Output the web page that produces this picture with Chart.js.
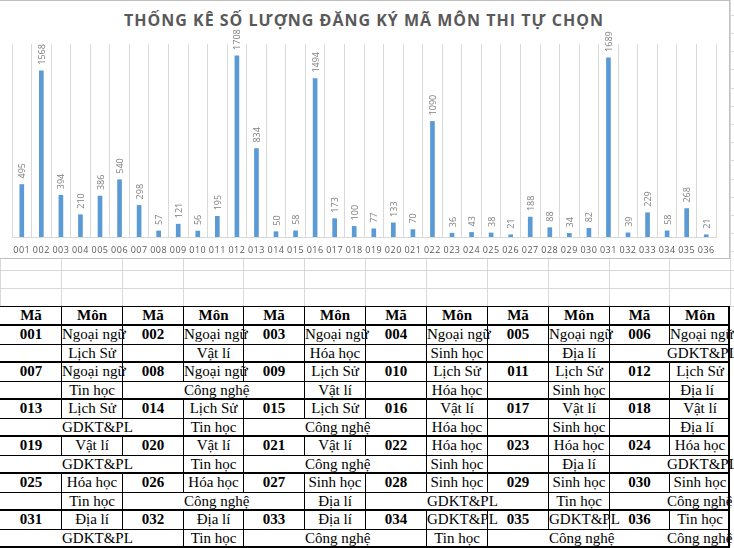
<!DOCTYPE html>
<html>
<head>
<meta charset="utf-8">
<script src="https://cdn.jsdelivr.net/npm/chart.js@4/dist/chart.umd.min.js"></script>
<style>
  html, body { margin: 0; padding: 0; background: #fff; }
  body { width: 734px; height: 548px; overflow: hidden; position: relative; }
  .gl { position: absolute; background: #d9d9d9; }
  #box { position: absolute; left: -1px; top: 0; width: 729px; height: 257px; background: #fff;
         border: 1px solid #bfbfbf; }
  #title { position: absolute; left: 0; top: 8px; width: 728px; text-align: center;
           font: 700 16px "Open Sans", sans-serif; letter-spacing: 1px; color: #595959; white-space: nowrap; }
  canvas { position: absolute; left: 1px; top: 0; }
  .ln { position: absolute; background: #000; }
  .cell { position: absolute; height: 18px; line-height: 18px; text-align: center; white-space: nowrap;
          font: 15px "Liberation Serif", "Times New Roman", serif; color: #000; }
  .b { font-weight: 700; }
</style>
</head>
<body>
<div id="grid"></div>
<div id="box">
  <div id="title">THỐNG KÊ SỐ LƯỢNG ĐĂNG KÝ MÃ MÔN THI TỰ CHỌN</div>
  <canvas id="c" width="728" height="257"></canvas>
</div>
<div id="tbl"></div>
<script>
// số lượng đăng ký theo mã
const codes = ["001","002","003","004","005","006","007","008","009","010","011","012",
  "013","014","015","016","017","018","019","020","021","022","023","024",
  "025","026","027","028","029","030","031","032","033","034","035","036"];
const counts = [495,1568,394,210,386,540,298,57,121,56,195,1708,
  834,50,58,1494,173,100,77,133,70,1090,36,43,
  38,21,188,88,34,82,1689,39,229,58,268,21];
const subject1 = ["Ngoại ngữ","Ngoại ngữ","Ngoại ngữ","Ngoại ngữ","Ngoại ngữ","Ngoại ngữ",
  "Ngoại ngữ","Ngoại ngữ","Lịch Sử","Lịch Sử","Lịch Sử","Lịch Sử",
  "Lịch Sử","Lịch Sử","Lịch Sử","Vật lí","Vật lí","Vật lí",
  "Vật lí","Vật lí","Vật lí","Hóa học","Hóa học","Hóa học",
  "Hóa học","Hóa học","Sinh học","Sinh học","Sinh học","Sinh học",
  "Địa lí","Địa lí","Địa lí","GDKT&PL","GDKT&PL","Tin học"];
const subject2 = ["Lịch Sử","Vật lí","Hóa học","Sinh học","Địa lí","GDKT&PL",
  "Tin học","Công nghệ","Vật lí","Hóa học","Sinh học","Địa lí",
  "GDKT&PL","Tin học","Công nghệ","Hóa học","Sinh học","Địa lí",
  "GDKT&PL","Tin học","Công nghệ","Sinh học","Địa lí","GDKT&PL",
  "Tin học","Công nghệ","Địa lí","GDKT&PL","Tin học","Công nghệ",
  "GDKT&PL","Tin học","Công nghệ","Tin học","Công nghệ","Công nghệ"];
const headers = ["Mã", "Môn"];
const wide = ["GDKT&PL", "Công nghệ"];

// --- excel gridlines behind everything
const grid = document.getElementById("grid");
function gl(x, y, w, h) {
  const d = document.createElement("div");
  d.className = "gl";
  Object.assign(d.style, { left: x + "px", top: y + "px", width: w + "px", height: h + "px" });
  grid.appendChild(d);
}
const colX = [];
for (let k = 0; k <= 12; k++) colX.push(Math.round(k * 60.85));
for (let y = 306; y > 0; y -= 18.2) gl(0, Math.round(y), 734, 1);
colX.forEach(x => gl(x, 0, 1, 306));

// --- chart
const spacing = {
  id: "spacing",
  beforeDraw(chart) { chart.ctx.letterSpacing = "0.5px"; },
  beforeDatasetsDraw(chart) { chart.ctx.letterSpacing = "0px"; }
};
const valueLabels = {
  id: "valueLabels",
  afterDatasetsDraw(chart) {
    const ctx = chart.ctx;
    const meta = chart.getDatasetMeta(0);
    ctx.save();
    ctx.font = "9px 'Open Sans', sans-serif";
    ctx.fillStyle = "#7f7f7f";
    ctx.textAlign = "left";
    ctx.textBaseline = "middle";
    meta.data.forEach((bar, i) => {
      ctx.save();
      ctx.translate(bar.x + 1, bar.y - 6);
      ctx.rotate(-Math.PI / 2);
      ctx.fillText(String(counts[i]), 0, 0);
      ctx.restore();
    });
    ctx.restore();
  }
};

new Chart(document.getElementById("c"), {
  type: "bar",
  data: {
    labels: codes,
    datasets: [{ data: counts, backgroundColor: "#5b9bd5", barThickness: 4 }]
  },
  options: {
    responsive: false,
    devicePixelRatio: 1,
    animation: false,
    layout: { padding: { left: 11, right: 13, top: 43, bottom: 1 } },
    plugins: { legend: { display: false }, tooltip: { enabled: false } },
    scales: {
      x: {
        afterFit(s) { s.height = 20; },
        grid: { color: "#d9d9d9", offset: true, drawTicks: false },
        border: { color: "#d9d9d9" },
        ticks: { color: "#595959", font: { family: "'Open Sans', sans-serif", size: 9 },
                 padding: 8, maxRotation: 0, autoSkip: false }
      },
      y: { display: false, min: 0, max: 1820 }
    }
  },
  plugins: [spacing, valueLabels]
});

// --- table under the chart
const tbl = document.getElementById("tbl");
function ln(x, y, w, h) {
  const d = document.createElement("div");
  d.className = "ln";
  Object.assign(d.style, { left: x + "px", top: y + "px", width: w + "px", height: h + "px" });
  tbl.appendChild(d);
}
function cell(text, x, y, w, cls) {
  const d = document.createElement("div");
  d.className = "cell " + (cls || "");
  Object.assign(d.style, { left: x + "px", top: y + "px", width: w + "px" });
  d.textContent = text;
  tbl.appendChild(d);
  return d;
}
const right = 729;
const headTop = 306, headBot = 325, groupH = 37, rowH = 18.5;

// header
for (let k = 0; k < 12; k++) {
  cell(headers[k % 2], colX[k] + 1, headTop + 1, colX[k + 1] - colX[k] - 1, "b");
}
ln(0, headTop, right, 1);
for (let k = 1; k < 12; k++) ln(colX[k], headTop, 1, headBot - headTop);

for (let g = 0; g < 6; g++) {
  const top = headBot + g * groupH;
  const midY = Math.round(top + rowH);
  for (let j = 0; j < 6; j++) {
    const i = g * 6 + j;
    const xm = colX[2 * j], xs = colX[2 * j + 1], xe = colX[2 * j + 2];
    cell(codes[i], xm + 1, top + 1, xs - xm - 1, "b");
    cell(subject1[i], xs + 1, top + 1, xe - xs - 1, "");
    const x2 = xe >= right ? xs - 2 : xs + 1;
    cell(subject2[i], x2, midY + 1, xe - xs - 1, "");
    if (!wide.includes(subject2[i])) {
      ln(xs, midY, 1, Math.round(top + groupH) - midY);
      if (xe < right) ln(xe, midY, 1, Math.round(top + groupH) - midY);
    }
  }
  for (let k = 1; k < 12; k++) ln(colX[k], top, 1, midY - top);
  ln(0, midY, right, 1);
  ln(0, top - 1, right + 1, 2);
}
ln(0, headBot + 6 * groupH - 1, right + 1, 2);
ln(right - 1, headTop, 2, headBot + 6 * groupH - headTop);
</script>
</body>
</html>
